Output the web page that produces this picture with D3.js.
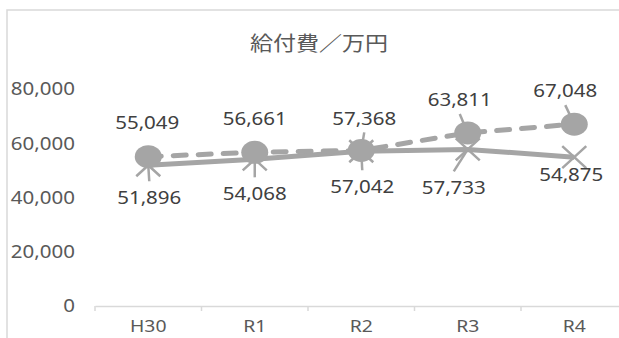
<!DOCTYPE html>
<html>
<head>
<meta charset="utf-8">
<script src="https://cdn.jsdelivr.net/npm/d3@7"></script>
<style>
  html, body { margin: 0; padding: 0; background: #fff; }
  svg { display: block; }
</style>
</head>
<body>
<svg id="chart" width="619" height="338"></svg>
<script>
// ---- data ----
const years = ["H30", "R1", "R2", "R3", "R4"];
const seriesSolid = [51896, 54068, 57042, 57733, 54875];
const seriesDashed = [55049, 56661, 57368, 63811, 67048];
const yTicks = [0, 20000, 40000, 60000, 80000];
const chartTitle = "給付費／万円";

// ---- label placement: offset of each value label from its point, and leader line flag ----
const solidLabelLayout = [
  { dx: 1, dy: 32, leader: true },
  { dx: 0, dy: 34, leader: true },
  { dx: 1, dy: 35, leader: true },
  { dx: -14, dy: 38, leader: true },
  { dx: -3, dy: 18, leader: false }
];
const dashedLabelLayout = [
  { dx: -1, dy: -34, leader: false },
  { dx: 0, dy: -34, leader: false },
  { dx: 3, dy: -32, leader: true },
  { dx: -8, dy: -33, leader: true },
  { dx: -9, dy: -33, leader: true }
];

// ---- style ----
const GREY = "#a5a5a5";
const AXIS_GREY = "#d9d9d9";
const TEXT_GREY = "#595959";
const LABEL_GREY = "#404040";
const FONT = "'Noto Sans', 'Open Sans', sans-serif";
const STRETCH = "scale(1.14,1)";

const svg = d3.select("#chart");

// chart frame
svg.append("rect")
  .attr("x", 7).attr("y", 10)
  .attr("width", 640).attr("height", 360)
  .attr("fill", "#fff")
  .attr("stroke", AXIS_GREY).attr("stroke-width", 1.5);

// scales
const x = d3.scaleBand().domain(years).range([95, 95 + 106.5 * years.length]).padding(0);
const y = d3.scaleLinear().domain([0, 80000]).range([306, 89]);
const cx = d => x(d) + x.bandwidth() / 2;

// title
svg.append("text")
  .attr("transform", `translate(319,44) scale(1.15,1)`)
  .attr("text-anchor", "middle")
  .attr("dy", "0.35em")
  .attr("font-family", "'Noto Sans CJK JP', sans-serif")
  .attr("font-size", 20)
  .attr("fill", TEXT_GREY)
  .text(chartTitle);

// y axis (labels only)
const yAxis = svg.append("g")
  .attr("transform", "translate(75,0)")
  .call(d3.axisLeft(y).tickValues(yTicks).tickSize(0).tickPadding(0).tickFormat(d3.format(",")));
yAxis.select(".domain").remove();
yAxis.selectAll("text")
  .attr("font-family", FONT).attr("font-size", 18)
  .attr("fill", TEXT_GREY)
  .attr("transform", STRETCH);

// x axis
const xAxis = svg.append("g")
  .attr("transform", "translate(0,306)")
  .call(d3.axisBottom(x).tickSize(0).tickPadding(14));
xAxis.select(".domain").attr("stroke", AXIS_GREY).attr("stroke-width", 1.5);
xAxis.selectAll("text")
  .attr("font-family", FONT).attr("font-size", 17)
  .attr("fill", TEXT_GREY)
  .attr("transform", STRETCH);
// category boundary tick marks
const boundaries = years.map(d => x(d)).concat([x(years[years.length - 1]) + x.bandwidth()]);
svg.append("g").selectAll("line")
  .data(boundaries).join("line")
  .attr("x1", d => d).attr("x2", d => d)
  .attr("y1", 306).attr("y2", 311)
  .attr("stroke", AXIS_GREY).attr("stroke-width", 1.5);

const solidPts = years.map((yr, i) => ({ yr, v: seriesSolid[i], lay: solidLabelLayout[i] }));
const dashedPts = years.map((yr, i) => ({ yr, v: seriesDashed[i], lay: dashedLabelLayout[i] }));

const line = d3.line().x(d => cx(d.yr)).y(d => y(d.v));

// solid series line
svg.append("path")
  .datum(solidPts)
  .attr("d", line)
  .attr("fill", "none")
  .attr("stroke", GREY).attr("stroke-width", 5)
  .attr("stroke-linejoin", "round");

// solid series X markers
svg.append("g").selectAll("path")
  .data(solidPts).join("path")
  .attr("transform", d => `translate(${cx(d.yr)},${y(d.v)})`)
  .attr("d", "M-12,-11L12,11M-12,11L12,-11")
  .attr("stroke", GREY).attr("stroke-width", 2.5).attr("fill", "none");

// solid series leader lines
svg.append("g").selectAll("line")
  .data(solidPts.filter(d => d.lay.leader)).join("line")
  .attr("x1", d => cx(d.yr)).attr("y1", d => y(d.v))
  .attr("x2", d => cx(d.yr) + d.lay.dx).attr("y2", d => y(d.v) + d.lay.dy - 16)
  .attr("stroke", GREY).attr("stroke-width", 2.5);

// dashed series line
svg.append("path")
  .datum(dashedPts)
  .attr("d", line)
  .attr("fill", "none")
  .attr("stroke", GREY).attr("stroke-width", 5)
  .attr("stroke-dasharray", "13,12")
  .attr("stroke-linecap", "round");

// dashed series leader lines
svg.append("g").selectAll("line")
  .data(dashedPts.filter(d => d.lay.leader)).join("line")
  .attr("x1", d => cx(d.yr)).attr("y1", d => y(d.v))
  .attr("x2", d => cx(d.yr) + d.lay.dx).attr("y2", d => y(d.v) + d.lay.dy + 14)
  .attr("stroke", GREY).attr("stroke-width", 2.5);

// dashed series circle markers
svg.append("g").selectAll("ellipse")
  .data(dashedPts).join("ellipse")
  .attr("cx", d => cx(d.yr)).attr("cy", d => y(d.v))
  .attr("rx", 13.5).attr("ry", 11.5)
  .attr("fill", GREY);

// value labels
const fmt = d3.format(",");
function drawLabels(pts) {
  svg.append("g").selectAll("text")
    .data(pts).join("text")
    .attr("transform", d => `translate(${cx(d.yr) + d.lay.dx},${y(d.v) + d.lay.dy}) ${STRETCH}`)
    .attr("text-anchor", "middle")
    .attr("dy", "0.35em")
    .attr("font-family", FONT).attr("font-size", 18)
    .attr("fill", LABEL_GREY)
    .text(d => fmt(d.v));
}
drawLabels(solidPts);
drawLabels(dashedPts);
</script>
</body>
</html>
